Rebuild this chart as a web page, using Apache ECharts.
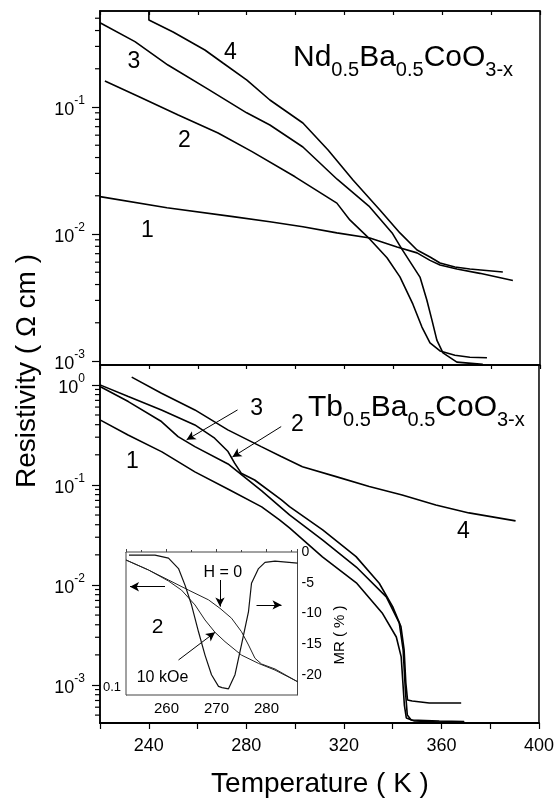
<!DOCTYPE html>
<html><head><meta charset="utf-8">
<script src="https://cdn.jsdelivr.net/npm/echarts@6/dist/echarts.min.js"></script>
<style>html,body{margin:0;padding:0;background:#fff}#c{width:557px;height:799px}</style>
</head><body><div id="c"></div>
<script>
// ---------------- data ----------------
// Nd0.5Ba0.5CoO3-x panel (top)
const nd1T = [220.0, 247.4, 274.4, 289.5, 303.0, 316.9, 330.4, 341.5, 349.7, 355.0, 359.1, 366.0, 375.4, 388.9];
const nd1R = [0.0197, 0.0161, 0.0137, 0.0125, 0.0114, 0.0102, 0.0093, 0.0079, 0.0071, 0.0062, 0.0057, 0.0053, 0.0049, 0.0043];
const nd2T = [222.0, 236.0, 252.0, 268.3, 282.2, 299.8, 316.9, 322.2, 330.4, 337.4, 342.7, 348.0, 351.7, 355.0, 359.1, 365.2, 371.3, 378.3];
const nd2R = [0.160, 0.1205, 0.0865, 0.0624, 0.0445, 0.0282, 0.0175, 0.0129, 0.0091, 0.0065, 0.0046, 0.0028, 0.00185, 0.00139, 0.00120, 0.00111, 0.00107, 0.00106];
const nd3T = [220.0, 234.3, 247.8, 264.0, 280.0, 289.5, 303.0, 317.0, 330.0, 339.5, 343.5, 350.9, 353.7, 355.8, 357.8, 360.3, 366.0, 376.6];
const nd3R = [0.461, 0.327, 0.214, 0.139, 0.090, 0.0721, 0.0484, 0.027, 0.0166, 0.0102, 0.0076, 0.00458, 0.00302, 0.0021, 0.00146, 0.00116, 0.00098, 0.00094];
const nd4T = [240.0, 240.0, 249.9, 262.9, 270.3, 280.1, 289.5, 303.0, 313.3, 323.5, 334.5, 342.7, 349.7, 355.0, 359.1, 365.2, 371.3, 384.8];
const nd4R = [0.57, 0.484, 0.390, 0.281, 0.222, 0.163, 0.1135, 0.0748, 0.0459, 0.0266, 0.01545, 0.0102, 0.00748, 0.00659, 0.00591, 0.00550, 0.00530, 0.00502];

// Tb0.5Ba0.5CoO3-x panel (bottom)
const tb1T = [220.0, 231.5, 245.4, 258.9, 273.2, 286.3, 293.6, 297.7, 311.2, 325.1, 335.7, 341.5, 343.5, 344.2, 344.8, 345.6, 348.9, 359.1, 369.4];
const tb1R = [0.447, 0.316, 0.214, 0.135, 0.0891, 0.0603, 0.0447, 0.0372, 0.0191, 0.0105, 0.00525, 0.00302, 0.00191, 0.00105, 0.00063, 0.000468, 0.000437, 0.000427, 0.000427];
const tb2T = [220.0, 231.6, 245.2, 258.9, 267.0, 272.5, 275.2, 277.9, 283.4, 294.4, 297.7, 311.3, 325.0, 334.5, 340.0, 343.4, 344.7, 345.4, 346.1, 348.0, 355.0, 368.1];
const tb2R = [1.0, 0.764, 0.562, 0.398, 0.293, 0.2155, 0.165, 0.131, 0.112, 0.0708, 0.0607, 0.0355, 0.0192, 0.0104, 0.00607, 0.00383, 0.00224, 0.00105, 0.000708, 0.000692, 0.000661, 0.000661];
const tb3T = [220.0, 231.6, 245.2, 252.0, 258.9, 272.5, 286.3, 297.7, 311.2, 325.1, 337.4, 342.7, 344.3, 345.2, 346.0, 347.6, 359.1, 369.3];
const tb3R = [0.962, 0.681, 0.430, 0.304, 0.2415, 0.162, 0.0871, 0.0501, 0.0282, 0.0151, 0.00759, 0.00417, 0.00224, 0.00089, 0.0005, 0.000447, 0.000437, 0.00043];
const tb4T = [233.0, 245.2, 258.9, 272.4, 286.1, 294.3, 303.0, 316.8, 330.4, 343.9, 357.7, 371.3, 390.4];
const tb4R = [1.194, 0.826, 0.562, 0.355, 0.2415, 0.192, 0.152, 0.121, 0.0962, 0.0794, 0.0631, 0.0525, 0.0437];

// Inset: sample 2, H = 0 and 10 kOe, and MR (%)
const insH0T = [251.9, 256.4, 260.4, 264.4, 268.4, 270.7, 273.0, 275.0, 276.4, 277.7, 279.0, 281.7, 286.2];
const insH0R = [0.503, 0.443, 0.390, 0.343, 0.303, 0.272, 0.240, 0.202, 0.1706, 0.144, 0.134, 0.1257, 0.107];
const insH10T = [251.9, 256.4, 260.4, 263.0, 265.7, 267.7, 269.7, 271.7, 275.0, 278.4, 281.7, 286.2];
const insH10R = [0.503, 0.443, 0.385, 0.343, 0.284, 0.2345, 0.2005, 0.178, 0.150, 0.135, 0.124, 0.107];
const mrT = [252.5, 257.7, 260.4, 262.4, 263.7, 265.0, 266.4, 267.7, 269.0, 270.4, 271.1, 272.4, 273.7, 275.0, 276.4, 277.0, 278.4, 279.7, 281.7, 286.2];
const mrV = [-0.5, -0.5, -1.0, -2.7, -5.4, -8.6, -13.0, -16.8, -20.0, -21.9, -22.1, -22.3, -20.0, -15.1, -9.7, -5.1, -2.7, -1.7, -1.5, -1.8];

// axis ranges and tick labels
const tRange = [220, 400];
const tTickStep = 20;
const tLabelStep = 40;
const ndRange = [0.00093, 0.57];
const tbRange = [0.000417, 1.58];
const insTRange = [251.9, 286.2];
const insRRange = [0.0903, 0.557];
const mrRange = [-23.3, 0];
const insLeftLabel = '0.1';

// ---------------- chart ----------------
const FONT = '"Liberation Sans", Arial, Helvetica, sans-serif';
const pair = (T, R) => T.map((t, i) => [t, R[i]]);

function isDecade(v) {
  const l = Math.log10(v);
  return Math.abs(l - Math.round(l)) < 0.01;
}
function supLabel(v) {
  if (!isDecade(v)) return '';
  return '{b|10}{s|' + Math.round(Math.log10(v)) + '}';
}
const supRich = {
  b: { fontSize: 18, lineHeight: 24, verticalAlign: 'bottom', fontFamily: FONT, color: '#000' },
  s: { fontSize: 12, lineHeight: 12, verticalAlign: 'top', fontFamily: FONT, color: '#000' }
};

// log-axis minor tick positions (2..9 x 10^n) inside an axis range
function minorVals(range) {
  const out = [];
  for (let e = -5; e <= 1; e++) {
    for (let k = 2; k <= 9; k++) {
      const v = k * Math.pow(10, e);
      if (v > range[0] && v < range[1]) out.push(v);
    }
  }
  return out;
}
function minorTickSeries(xi, yi, range, len) {
  return {
    type: 'custom', xAxisIndex: xi, yAxisIndex: yi, silent: true, clip: false, z: 10,
    encode: { x: 0, y: 1 },
    data: minorVals(range).map(v => [tRange[0], v]),
    renderItem: (params, api) => {
      const p = api.coord([api.value(0), api.value(1)]);
      return { type: 'line', shape: { x1: p[0] - len, y1: p[1], x2: p[0], y2: p[1] },
               style: { stroke: '#000', lineWidth: 1.2, fill: null } };
    }
  };
}

const axisLineBlack = { show: true, lineStyle: { color: '#000', width: 1.5 } };

function curve(name, xi, yi, T, R, w, extra) {
  return Object.assign({
    name, type: 'line', xAxisIndex: xi, yAxisIndex: yi, data: pair(T, R),
    symbol: 'none', smooth: false, silent: true,
    lineStyle: { color: '#000', width: w }
  }, extra || {});
}

const arrowML = (segs) => ({
  silent: true, symbol: ['none', 'arrow'], symbolSize: [7, 9],
  label: { show: false },
  lineStyle: { color: '#000', width: 1, type: 'solid' },
  data: segs.map(s => [{ coord: s[0] }, { coord: s[1] }])
});

function txt(str, x, y, size, extra) {
  return Object.assign({
    type: 'text', x, y, z: 100, silent: true,
    style: { text: str, font: size + 'px ' + FONT, fill: '#000',
             align: 'center', verticalAlign: 'middle',
             textAlign: 'center', textVerticalAlign: 'middle' }
  }, extra || {});
}

const titleRich = {
  n: { fontSize: 30, lineHeight: 30, verticalAlign: 'top', fontFamily: FONT, fill: '#000' },
  s: { fontSize: 20, lineHeight: 56, fontFamily: FONT, fill: '#000' }
};
function titleText(str, x, y) {
  return {
    type: 'text', x, y, z: 100, silent: true,
    style: { text: str, rich: titleRich, fill: '#000', font: '30px ' + FONT,
             align: 'left', verticalAlign: 'top', textAlign: 'left', textVerticalAlign: 'top' }
  };
}

const option = {
  animation: false,
  backgroundColor: '#fff',
  grid: [
    { left: 100, top: 11, width: 440, height: 354, show: true, borderColor: '#000', borderWidth: 1.5, backgroundColor: 'transparent' },
    { left: 100, top: 365, width: 440, height: 358, show: true, borderColor: '#000', borderWidth: 1.5, backgroundColor: 'transparent' },
    { left: 126, top: 552, width: 171.5, height: 143, show: true, borderColor: '#444', borderWidth: 1, backgroundColor: '#fff', z: 3 }
  ],
  xAxis: [
    { gridIndex: 0, type: 'value', min: tRange[0], max: tRange[1], interval: tTickStep, position: 'bottom',
      axisLine: axisLineBlack, axisTick: { show: true, inside: false, length: 4, lineStyle: { color: '#000', width: 1.2 } },
      axisLabel: { show: false }, splitLine: { show: false } },
    { gridIndex: 0, type: 'value', min: tRange[0], max: tRange[1], interval: tTickStep, position: 'top',
      axisLine: axisLineBlack, axisTick: { show: true, inside: true, length: 4, lineStyle: { color: '#000', width: 1.2 } },
      axisLabel: { show: false }, splitLine: { show: false } },
    { gridIndex: 1, type: 'value', min: tRange[0], max: tRange[1], interval: tTickStep, position: 'bottom',
      axisLine: { show: true, lineStyle: { color: '#000', width: 2 } },
      axisTick: { show: true, inside: false, length: 6, lineStyle: { color: '#000', width: 1.2 } },
      axisLabel: { show: true, margin: 14, fontSize: 18, fontFamily: FONT, color: '#000',
                   formatter: v => (v % tLabelStep === 0 ? String(v) : '') },
      splitLine: { show: false } },
    { gridIndex: 2, type: 'value', min: insTRange[0], max: insTRange[1], splitNumber: 3, position: 'bottom',
      axisLine: { show: true, lineStyle: { color: '#444', width: 1 } },
      axisTick: { show: true, inside: true, length: 3, lineStyle: { color: '#444', width: 1 } },
      minorTick: { show: true, splitNumber: 2, length: 2, lineStyle: { color: '#444' } },
      axisLabel: { show: true, margin: 6, fontSize: 15, fontFamily: FONT, color: '#000', showMinLabel: false, showMaxLabel: false },
      splitLine: { show: false } }
  ],
  yAxis: [
    { gridIndex: 0, type: 'log', logBase: 10, min: ndRange[0], max: ndRange[1], position: 'left',
      axisLine: axisLineBlack, axisTick: { show: true, inside: false, length: 8, lineStyle: { color: '#000', width: 1.2 } },
      axisLabel: { formatter: supLabel, rich: supRich, margin: 15, showMinLabel: false, showMaxLabel: false },
      splitLine: { show: false } },
    { gridIndex: 1, type: 'log', logBase: 10, min: tbRange[0], max: tbRange[1], position: 'left',
      axisLine: axisLineBlack, axisTick: { show: true, inside: false, length: 8, lineStyle: { color: '#000', width: 1.2 } },
      axisLabel: { formatter: supLabel, rich: supRich, margin: 15, showMinLabel: false, showMaxLabel: false },
      splitLine: { show: false } },
    { gridIndex: 2, type: 'log', logBase: 10, min: insRRange[0], max: insRRange[1], position: 'left',
      axisLine: { show: true, lineStyle: { color: '#444', width: 1 } },
      axisTick: { show: true, inside: true, length: 3, lineStyle: { color: '#444', width: 1 } },
      axisLabel: { formatter: v => (isDecade(v) ? insLeftLabel : ''), margin: 5, fontSize: 13, fontFamily: FONT, color: '#000',
                   showMinLabel: false, showMaxLabel: false },
      splitLine: { show: false } },
    { gridIndex: 2, type: 'value', min: mrRange[0], max: mrRange[1], position: 'right',
      axisLine: { show: true, lineStyle: { color: '#444', width: 1 } },
      axisTick: { show: true, inside: true, length: 3, lineStyle: { color: '#444', width: 1 } },
      axisLabel: { margin: 4, fontSize: 14, fontFamily: FONT, color: '#000', showMinLabel: false },
      splitLine: { show: false } }
  ],
  series: [
    curve('Nd 1', 0, 0, nd1T, nd1R, 1.6),
    curve('Nd 2', 0, 0, nd2T, nd2R, 1.6),
    curve('Nd 3', 0, 0, nd3T, nd3R, 1.6),
    curve('Nd 4', 0, 0, nd4T, nd4R, 1.6),
    curve('Tb 1', 2, 1, tb1T, tb1R, 1.6, {
      markLine: arrowML([
        [[276.4, 0.562], [255.5, 0.282]],
        [[294.3, 0.383], [274.3, 0.19]]
      ])
    }),
    curve('Tb 2', 2, 1, tb2T, tb2R, 1.6),
    curve('Tb 3', 2, 1, tb3T, tb3R, 1.6),
    curve('Tb 4', 2, 1, tb4T, tb4R, 1.6),
    curve('H = 0', 3, 2, insH0T, insH0R, 1, {
      z: 6, lineStyle: { color: '#222', width: 1 },
      markLine: arrowML([
        [[259.7, 0.358], [252.7, 0.358]],
        [[278.0, 0.284], [283.0, 0.284]],
        [[270.7, 0.390], [270.7, 0.278]],
        [[262.4, 0.141], [269.7, 0.2004]]
      ])
    }),
    curve('10 kOe', 3, 2, insH10T, insH10R, 1, { z: 6, lineStyle: { color: '#222', width: 1 } }),
    curve('MR', 3, 3, mrT, mrV, 1.2, { z: 6, lineStyle: { color: '#111', width: 1.2 } }),
    minorTickSeries(0, 0, ndRange, 5),
    minorTickSeries(2, 1, tbRange, 5)
  ],
  graphic: [
    titleText('{n|Nd}{s|0.5}{n|Ba}{s|0.5}{n|CoO}{s|3-x}', 293, 42.5),
    titleText('{n|Tb}{s|0.5}{n|Ba}{s|0.5}{n|CoO}{s|3-x}', 308, 392.5),
    txt('4', 230.5, 52.5, 23), txt('3', 134, 62, 23), txt('2', 184.5, 141, 23), txt('1', 147.5, 231, 23),
    txt('3', 256.7, 408.3, 23), txt('2', 297.5, 425, 23), txt('1', 132.5, 461.7, 23), txt('4', 463.3, 531.7, 23),
    txt('2', 157.5, 627.5, 21), txt('H = 0', 222.8, 573, 16), txt('10 kOe', 162.5, 677.7, 16),
    txt('MR ( % )', 339.5, 635, 15, { rotation: Math.PI / 2 }),
    txt('Resistivity ( Ω cm )', 27, 371, 28, { rotation: Math.PI / 2 }),
    txt('Temperature ( K )', 320, 784, 28)
  ]
};

const chart = echarts.init(document.getElementById('c'), null, { renderer: 'canvas' });
chart.setOption(option);
</script>
</body></html>
